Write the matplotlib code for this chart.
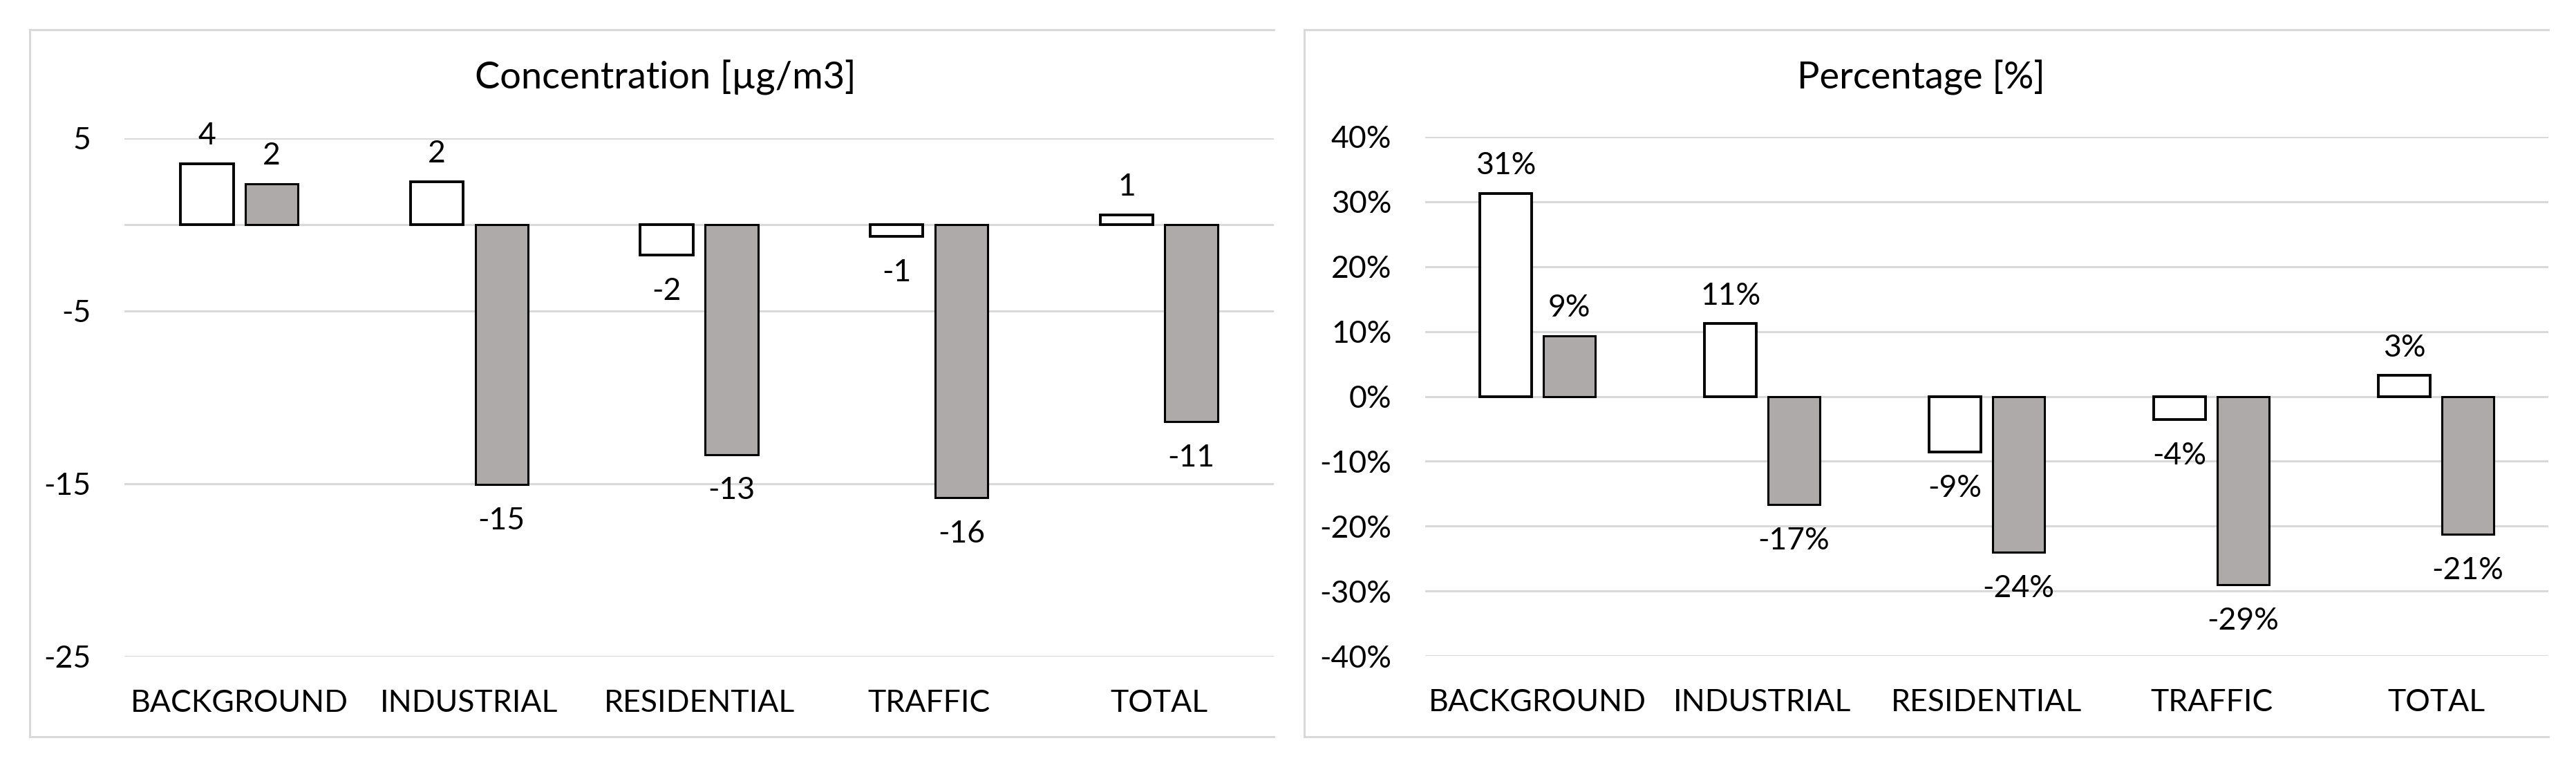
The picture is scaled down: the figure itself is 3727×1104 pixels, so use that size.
import numpy as np
import matplotlib
matplotlib.use("Agg")
import matplotlib.pyplot as plt
from matplotlib.lines import Line2D
import matplotlib.ticker as mticker

# categories and values
categories = ["BACKGROUND", "INDUSTRIAL", "RESIDENTIAL", "TRAFFIC", "TOTAL"]

conc_white = [3.52, 2.47, -1.75, -0.7, 0.55]
conc_grey = [2.36, -15.05, -13.3, -15.8, -11.4]
conc_ticks = [-25, -15, -5, 5]

pct_white = [31.3, 11.2, -8.6, -3.6, 3.2]
pct_grey = [9.3, -16.7, -24.0, -29.0, -21.3]
pct_ticks = [-40, -30, -20, -10, 0, 10, 20, 30, 40]

titles = ["Concentration [µg/m3]", "Percentage [%]"]

plt.rcParams['font.family'] = ['Lato', 'DejaVu Sans']
plt.rcParams['axes.unicode_minus'] = False

W, H = 3727, 1104
fig = plt.figure(figsize=(W / 100, H / 100), dpi=100)

grid_col = '#d9d9d9'
grey_fill = '#aeaaaa'
fs = 32

ax1 = fig.add_axes([180 / W, 154 / H, 1663 / W, 750 / H])
ax2 = fig.add_axes([2062 / W, 155 / H, 1625 / W, 751 / H])


def draw_panel(ax, white, grey, ticks, ylim, fmt):
    x = np.arange(len(categories))
    bw = 0.23
    off = 0.141
    b1 = ax.bar(x - off, white, bw, color='white', edgecolor='black', linewidth=2.8, zorder=3)
    b2 = ax.bar(x + off, grey, bw, color=grey_fill, edgecolor='black', linewidth=2.2, zorder=3)
    for bars, vals in ((b1, white), (b2, grey)):
        for b, v in zip(bars, vals):
            cx = b.get_x() + b.get_width() / 2
            if v >= 0:
                ax.annotate(fmt(v), (cx, v), xytext=(0, 20), textcoords='offset points',
                            ha='center', va='baseline', fontsize=fs)
            else:
                ax.annotate(fmt(v), (cx, v), xytext=(0, -23), textcoords='offset points',
                            ha='center', va='top', fontsize=fs)
    ax.set_xlim(-0.5, len(categories) - 0.5)
    ax.set_ylim(*ylim)
    ax.set_yticks(ticks)
    ax.yaxis.set_major_formatter(mticker.FuncFormatter(lambda v, p: fmt(v)))
    ax.set_xticks(x)
    ax.set_xticklabels(categories)
    ax.grid(axis='y', color=grid_col, linewidth=2.2, zorder=0)
    ax.axhline(0, color=grid_col, linewidth=2.2, zorder=1)
    for s in ax.spines.values():
        s.set_visible(False)
    ax.tick_params(axis='both', length=0, labelsize=fs)
    ax.tick_params(axis='y', pad=35)
    ax.tick_params(axis='x', pad=34)


draw_panel(ax1, conc_white, conc_grey, conc_ticks, (-25, 5), lambda v: f"{round(v):d}")
draw_panel(ax2, pct_white, pct_grey, pct_ticks, (-40, 40), lambda v: f"{v:.0f}%")

# panel borders (right side cut off in the reference)
for x0, x1 in ((43, 1843), (1887, 3687)):
    for xs, ys in (([x0, x1], [43, 43]), ([x0, x1], [1066, 1066]), ([x0, x0], [43, 1066])):
        fig.add_artist(Line2D([v / W for v in xs], [1 - v / H for v in ys],
                              color=grid_col, linewidth=2.2, transform=fig.transFigure))

fig.text(963 / W, 1 - 128 / H, titles[0], ha='center', va='baseline', fontsize=39)
fig.text(2779 / W, 1 - 128 / H, titles[1], ha='center', va='baseline', fontsize=39)

fig.savefig("out.png", dpi=100, facecolor='white')
